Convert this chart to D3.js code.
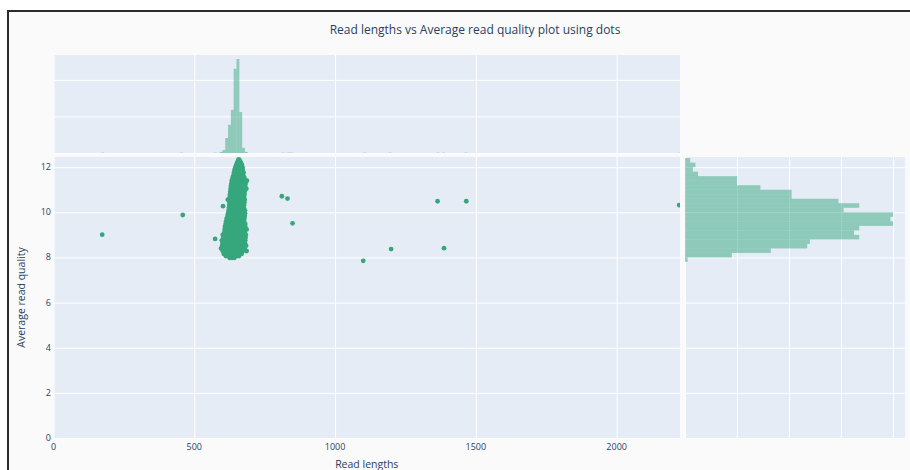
<!DOCTYPE html>
<html>
<head>
<meta charset="utf-8">
<script src="https://cdn.jsdelivr.net/npm/d3@7"></script>
<style>
  html, body { margin: 0; padding: 0; background: #ffffff; overflow: hidden; }
  svg { display: block; }
  text { font-family: "Open Sans", "DejaVu Sans", sans-serif; }
</style>
</head>
<body>
<svg id="chart" width="910" height="470"></svg>
<script>
// ---------------- DATA ----------------
const titleText = "Read lengths vs Average read quality plot using dots";
const xAxisTitle = "Read lengths";
const yAxisTitle = "Average read quality";

const xTicks = [0, 500, 1000, 1500, 2000];
const yTicks = [0, 2, 4, 6, 8, 10, 12];
const topHistGridTicks = [0, 100, 200];
const rightHistGridTicks = [0, 20, 40, 60, 80];

// Main cluster of reads: each row = [average quality, list of read lengths]
const clusterRows = [
  [12.34, [658]],
  [12.30, [656, 661]],
  [12.20, [652, 659, 666]],
  [12.10, [649, 656, 663, 669]],
  [12.00, [646, 653, 660, 667, 671]],
  [11.88, [643, 650, 657, 664, 672]],
  [11.76, [641, 648, 655, 662, 669, 675]],
  [11.64, [639, 646, 653, 660, 667, 674]],
  [11.52, [636, 643, 650, 657, 664, 671, 678]],
  [11.40, [633, 640, 648, 656, 663, 670, 677, 683, 687]],
  [11.28, [632, 639, 647, 655, 662, 669, 676, 682]],
  [11.16, [630, 637, 645, 653, 660, 668, 675, 681]],
  [11.04, [629, 636, 644, 652, 659, 667, 674, 680, 685]],
  [10.92, [628, 635, 643, 651, 658, 666, 673, 679]],
  [10.80, [627, 634, 642, 650, 657, 665, 672, 678]],
  [10.68, [626, 633, 641, 649, 656, 664, 671, 677]],
  [10.56, [619, 626, 633, 640, 648, 655, 663, 670, 679]],
  [10.44, [625, 632, 640, 647, 655, 662, 670, 678]],
  [10.32, [624, 631, 639, 646, 654, 661, 669, 677]],
  [10.20, [623, 630, 638, 646, 653, 661, 668, 676]],
  [10.08, [622, 629, 637, 645, 652, 660, 667, 675, 680]],
  [9.96, [620, 628, 636, 644, 651, 659, 666, 674, 680]],
  [9.84, [618, 626, 634, 642, 650, 658, 665, 673, 679]],
  [9.72, [615, 623, 631, 639, 647, 655, 663, 670, 678]],
  [9.60, [613, 621, 629, 637, 645, 653, 661, 669, 677]],
  [9.48, [611, 619, 627, 635, 643, 651, 659, 667, 675, 681]],
  [9.36, [609, 617, 625, 633, 641, 649, 657, 665, 673, 681]],
  [9.24, [608, 616, 624, 632, 640, 648, 656, 664, 672, 680, 686]],
  [9.12, [607, 615, 623, 631, 639, 647, 655, 663, 671, 679]],
  [9.00, [601, 605, 613, 621, 629, 637, 645, 653, 661, 669, 677, 683]],
  [8.88, [603, 611, 619, 627, 635, 643, 651, 659, 667, 675, 682]],
  [8.76, [598, 601, 609, 617, 625, 633, 641, 649, 657, 665, 673, 681]],
  [8.64, [600, 608, 616, 624, 632, 640, 648, 656, 664, 672, 680]],
  [8.52, [599, 607, 615, 623, 631, 639, 647, 655, 663, 671, 679, 684]],
  [8.40, [595, 599, 607, 615, 623, 631, 639, 647, 655, 663, 671, 679]],
  [8.28, [601, 609, 617, 625, 633, 641, 649, 657, 665, 673, 686]],
  [8.16, [605, 613, 621, 629, 637, 645, 653, 661, 668]],
  [8.06, [612, 620, 628, 636, 644, 652, 659]],
  [7.98, [626, 634, 642]]
];

// Isolated reads
const outlierLengths  = [173, 459, 574, 602, 811, 831, 849, 1100, 1199, 1364, 1387, 1466, 2222];
const outlierQuality  = [9.01, 9.88, 8.82, 10.27, 10.71, 10.61, 9.51, 7.85, 8.37, 10.49, 8.41, 10.49, 10.32];

// Top marginal histogram (read lengths, bin width 10)
const lengthBinStarts = [170, 450, 570, 590, 600, 610, 620, 630, 640, 650, 660, 670, 680, 810, 830, 840, 1100, 1190, 1360, 1380, 1460, 2220];
const lengthBinCounts = [1, 1, 1, 3, 8, 41, 77, 118, 230, 257, 112, 14, 3, 1, 1, 1, 1, 1, 1, 1, 1, 1];
const lengthBinWidth = 10;

// Right marginal histogram (average quality, bin width 0.2)
const qualityBinStarts = [7.8, 8.0, 8.2, 8.4, 8.6, 8.8, 9.0, 9.2, 9.4, 9.6, 9.8, 10.0, 10.2, 10.4, 10.6, 10.8, 11.0, 11.2, 11.4, 11.6, 11.8, 12.0, 12.2];
const qualityBinCounts = [1, 18, 33, 47, 48, 67, 65, 67, 80, 79, 80, 61, 67, 59, 41, 41, 29, 20, 20, 5, 3, 4, 2];
const qualityBinWidth = 0.2;

// ---------------- STYLE ----------------
const plotBg = "#e5ecf6";
const paperBg = "#fafafa";
const textColor = "#2a3f5f";
const dotColor = "#36a77d";
const barColor = "#36a77d";

// ---------------- LAYOUT ----------------
const mainP = { x0: 53.5, x1: 680, y0: 157, y1: 438 };
const topP = { y0: 55, y1: 153 };
const rightP = { x0: 685, x1: 905 };

const svg = d3.select("#chart");

// paper + frame
svg.append("rect").attr("x", 0).attr("y", 0).attr("width", 910).attr("height", 470).attr("fill", "#ffffff");
svg.append("rect").attr("x", 8).attr("y", 11).attr("width", 1000).attr("height", 1000)
   .attr("fill", paperBg).attr("stroke", "#2b2b2b").attr("stroke-width", 2);

// scales
const x = d3.scaleLinear().domain([0, 2225]).range([mainP.x0, mainP.x1]);
const y = d3.scaleLinear().domain([0, 12.45]).range([mainP.y1, mainP.y0]);
const yTop = d3.scaleLinear().domain([0, 268]).range([topP.y1, topP.y0]);
const xRight = d3.scaleLinear().domain([0, 84.6]).range([rightP.x0, rightP.x1]);

// backgrounds
svg.append("rect").attr("x", mainP.x0).attr("y", mainP.y0).attr("width", mainP.x1 - mainP.x0).attr("height", mainP.y1 - mainP.y0).attr("fill", plotBg);
svg.append("rect").attr("x", mainP.x0).attr("y", topP.y0).attr("width", mainP.x1 - mainP.x0).attr("height", topP.y1 - topP.y0).attr("fill", plotBg);
svg.append("rect").attr("x", rightP.x0).attr("y", mainP.y0).attr("width", rightP.x1 - rightP.x0).attr("height", mainP.y1 - mainP.y0).attr("fill", plotBg);

function styleGrid(g) {
  g.select(".domain").remove();
  g.selectAll(".tick line").attr("stroke", "#ffffff").attr("stroke-width", 1);
  g.selectAll(".tick text").remove();
}

// main grids
svg.append("g").attr("transform", `translate(0,${mainP.y1})`)
  .call(d3.axisBottom(x).tickValues(xTicks).tickSize(-(mainP.y1 - mainP.y0)).tickFormat(""))
  .call(styleGrid);
svg.append("g").attr("transform", `translate(${mainP.x0},0)`)
  .call(d3.axisLeft(y).tickValues(yTicks).tickSize(-(mainP.x1 - mainP.x0)).tickFormat(""))
  .call(styleGrid);
// top hist grids
svg.append("g").attr("transform", `translate(0,${topP.y1})`)
  .call(d3.axisBottom(x).tickValues(xTicks).tickSize(-(topP.y1 - topP.y0)).tickFormat(""))
  .call(styleGrid);
svg.append("g").attr("transform", `translate(${mainP.x0},0)`)
  .call(d3.axisLeft(yTop).tickValues(topHistGridTicks).tickSize(-(mainP.x1 - mainP.x0)).tickFormat(""))
  .call(styleGrid);
// right hist grids
svg.append("g").attr("transform", `translate(0,${mainP.y1})`)
  .call(d3.axisBottom(xRight).tickValues(rightHistGridTicks).tickSize(-(mainP.y1 - mainP.y0)).tickFormat(""))
  .call(styleGrid);
svg.append("g").attr("transform", `translate(${rightP.x0},0)`)
  .call(d3.axisLeft(y).tickValues(yTicks).tickSize(-(rightP.x1 - rightP.x0)).tickFormat(""))
  .call(styleGrid);

// clip paths
const defs = svg.append("defs");
defs.append("clipPath").attr("id", "clipMain").append("rect")
  .attr("x", mainP.x0).attr("y", mainP.y0).attr("width", mainP.x1 - mainP.x0).attr("height", mainP.y1 - mainP.y0);
defs.append("clipPath").attr("id", "clipTop").append("rect")
  .attr("x", mainP.x0).attr("y", topP.y0).attr("width", mainP.x1 - mainP.x0).attr("height", topP.y1 - topP.y0);
defs.append("clipPath").attr("id", "clipRight").append("rect")
  .attr("x", rightP.x0).attr("y", mainP.y0).attr("width", rightP.x1 - rightP.x0).attr("height", mainP.y1 - mainP.y0);

// top histogram
const topData = lengthBinStarts.map((s, i) => ({ s, c: lengthBinCounts[i] }));
svg.append("g").attr("clip-path", "url(#clipTop)")
  .selectAll("rect").data(topData).join("rect")
  .attr("x", d => x(d.s))
  .attr("width", d => Math.max(0.8, x(d.s + lengthBinWidth) - x(d.s)))
  .attr("y", d => yTop(d.c))
  .attr("height", d => yTop(0) - yTop(d.c))
  .attr("fill", barColor).attr("fill-opacity", 0.5);

// right histogram
const rightData = qualityBinStarts.map((s, i) => ({ s, c: qualityBinCounts[i] }));
svg.append("g").attr("clip-path", "url(#clipRight)")
  .selectAll("rect").data(rightData).join("rect")
  .attr("x", xRight(0))
  .attr("width", d => xRight(d.c) - xRight(0))
  .attr("y", d => y(d.s + qualityBinWidth))
  .attr("height", d => y(d.s) - y(d.s + qualityBinWidth))
  .attr("fill", barColor).attr("fill-opacity", 0.5);

// scatter points
const points = [];
clusterRows.forEach(([q, lens]) => lens.forEach(l => points.push({ l, q })));
outlierLengths.forEach((l, i) => points.push({ l, q: outlierQuality[i] }));

svg.append("g").attr("clip-path", "url(#clipMain)")
  .selectAll("circle").data(points).join("circle")
  .attr("cx", d => x(d.l))
  .attr("cy", d => y(d.q))
  .attr("r", 2.4)
  .attr("fill", dotColor);

// tick labels
svg.append("g").selectAll("text").data(xTicks).join("text")
  .attr("x", d => x(d)).attr("y", 450)
  .attr("text-anchor", "middle")
  .attr("font-size", 9).attr("fill", textColor)
  .text(d => d);
svg.append("g").selectAll("text").data(yTicks).join("text")
  .attr("x", 51).attr("y", d => y(d) + 3)
  .attr("text-anchor", "end")
  .attr("font-size", 9).attr("fill", textColor)
  .text(d => d);

// titles
svg.append("text").attr("x", 475).attr("y", 34)
  .attr("text-anchor", "middle").attr("font-size", 12).attr("fill", textColor)
  .text(titleText);
svg.append("text").attr("x", (mainP.x0 + mainP.x1) / 2).attr("y", 468)
  .attr("text-anchor", "middle").attr("font-size", 10.5).attr("fill", textColor)
  .text(xAxisTitle);
svg.append("text")
  .attr("transform", `translate(25,${(mainP.y0 + mainP.y1) / 2}) rotate(-90)`)
  .attr("text-anchor", "middle").attr("font-size", 10.5).attr("fill", textColor)
  .text(yAxisTitle);
</script>
</body>
</html>
